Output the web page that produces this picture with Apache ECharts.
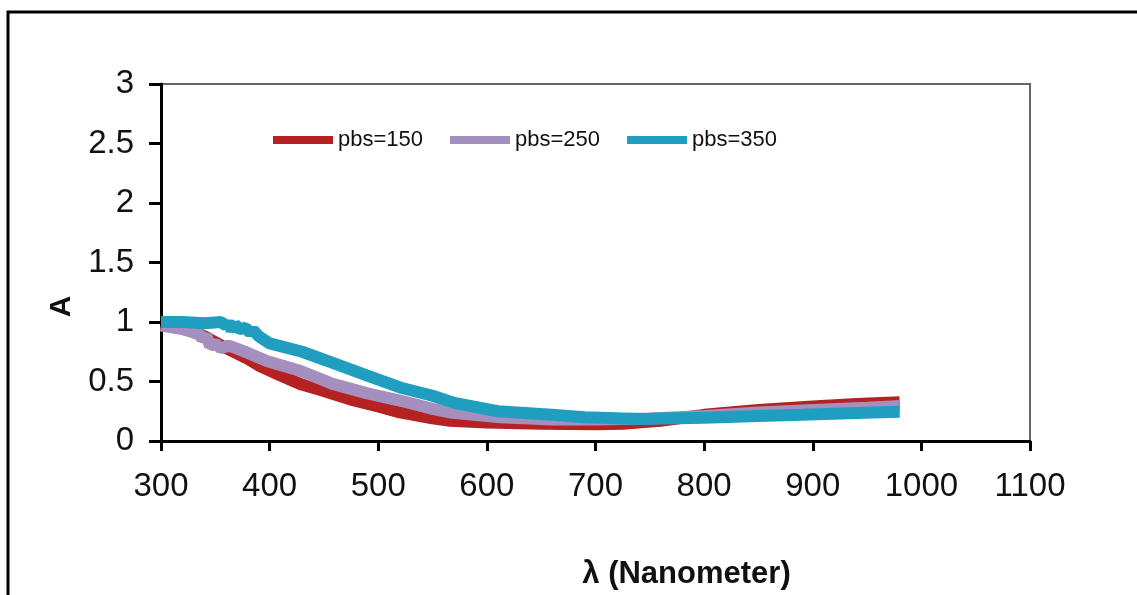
<!DOCTYPE html>
<html>
<head>
<meta charset="utf-8">
<title>pbs absorbance</title>
<script src="https://cdn.jsdelivr.net/npm/echarts@6/dist/echarts.min.js"></script>
<style>
  html, body { margin: 0; padding: 0; background: #fff; }
  #chart { width: 1137px; height: 595px; }
</style>
</head>
<body>
<div id="chart"></div>
<script>
// wavelength (nm) / absorbance pairs
const seriesNames = ['pbs=150', 'pbs=250', 'pbs=350']

const lambda150 = [300, 320, 340, 360, 380, 391, 410, 428, 450, 474, 500, 520, 550, 566, 600, 650, 700, 725, 760, 800, 850, 900, 940, 980]
const abs150 = [0.98, 0.95, 0.88, 0.78, 0.69, 0.63, 0.55, 0.48, 0.42, 0.35, 0.29, 0.24, 0.19, 0.17, 0.155, 0.145, 0.14, 0.145, 0.17, 0.22, 0.26, 0.29, 0.31, 0.325]

const lambda250 = [300, 320, 335, 338, 342, 345, 350, 355, 362, 366, 380, 398, 428, 458, 490, 520, 550, 566, 612, 660, 700, 750, 800, 850, 900, 950, 980]
const abs250 = [0.97, 0.94, 0.9, 0.86, 0.88, 0.8, 0.82, 0.78, 0.8, 0.79, 0.74, 0.67, 0.59, 0.48, 0.4, 0.34, 0.27, 0.24, 0.2, 0.18, 0.18, 0.19, 0.21, 0.24, 0.26, 0.28, 0.295]

const lambda350 = [300, 320, 340, 355, 360, 362, 365, 368, 372, 378, 382, 385, 390, 400, 430, 460, 490, 520, 550, 570, 610, 660, 690, 740, 800, 850, 890, 940, 980]
const abs350 = [1.0, 1.0, 0.99, 1.0, 0.97, 1.0, 0.93, 0.98, 0.94, 0.95, 0.91, 0.93, 0.88, 0.82, 0.75, 0.65, 0.55, 0.45, 0.38, 0.32, 0.25, 0.22, 0.2, 0.185, 0.195, 0.21, 0.22, 0.235, 0.245]

const colors = ['#b52222', '#a58fbf', '#209ebf']

function pairs(xs, ys) {
  return xs.map((x, i) => [x, ys[i]])
}

const chart = echarts.init(document.getElementById('chart'))
const labelFont = { color: '#111', fontFamily: 'Liberation Sans, Arial, sans-serif' }

const option = {
  animation: false,
  color: colors,
  grid: {
    left: 161,
    top: 84,
    right: 107,
    bottom: 154,
    show: true,
    borderColor: '#666',
    borderWidth: 2,
    backgroundColor: 'transparent'
  },
  legend: {
    left: 273,
    top: 129,
    padding: 0,
    itemWidth: 60,
    itemHeight: 8,
    itemGap: 27,
    icon: 'rect',
    textStyle: Object.assign({ fontSize: 22 }, labelFont),
    data: seriesNames
  },
  xAxis: {
    type: 'value',
    min: 300,
    max: 1100,
    interval: 100,
    name: 'λ (Nanometer)',
    nameLocation: 'middle',
    nameGap: 118,
    nameTextStyle: Object.assign({ fontSize: 31, fontWeight: 'bold', padding: [0, 0, 0, 182] }, labelFont),
    axisLine: { show: true, onZero: false, lineStyle: { color: '#000', width: 3 } },
    axisTick: { show: true, length: 10, lineStyle: { color: '#000', width: 3 } },
    axisLabel: Object.assign({ fontSize: 33, margin: 29, formatter: v => String(v) }, labelFont),
    splitLine: { show: false }
  },
  yAxis: {
    type: 'value',
    min: 0,
    max: 3,
    interval: 0.5,
    name: 'A',
    nameLocation: 'middle',
    nameRotate: 90,
    nameGap: 76,
    nameTextStyle: Object.assign({ fontSize: 30, fontWeight: 'bold', padding: [0, 88, 0, 0] }, labelFont),
    axisLine: { show: true, onZero: false, lineStyle: { color: '#000', width: 3 } },
    axisTick: { show: true, length: 12, lineStyle: { color: '#000', width: 3 } },
    axisLabel: Object.assign({ fontSize: 33, margin: 27 }, labelFont),
    splitLine: { show: false }
  },
  graphic: [
    {
      type: 'polyline',
      shape: { points: [[8, 600], [8, 12], [1140, 12]] },
      style: { stroke: '#000', lineWidth: 3, fill: null },
      silent: true
    }
  ],
  series: [
    { name: seriesNames[0], type: 'line', data: pairs(lambda150, abs150) },
    { name: seriesNames[1], type: 'line', data: pairs(lambda250, abs250) },
    { name: seriesNames[2], type: 'line', data: pairs(lambda350, abs350) }
  ].map(s => Object.assign(s, {
    showSymbol: false,
    symbol: 'none',
    lineStyle: { width: 12 },
    emphasis: { disabled: true }
  }))
}

chart.setOption(option)
</script>
</body>
</html>
